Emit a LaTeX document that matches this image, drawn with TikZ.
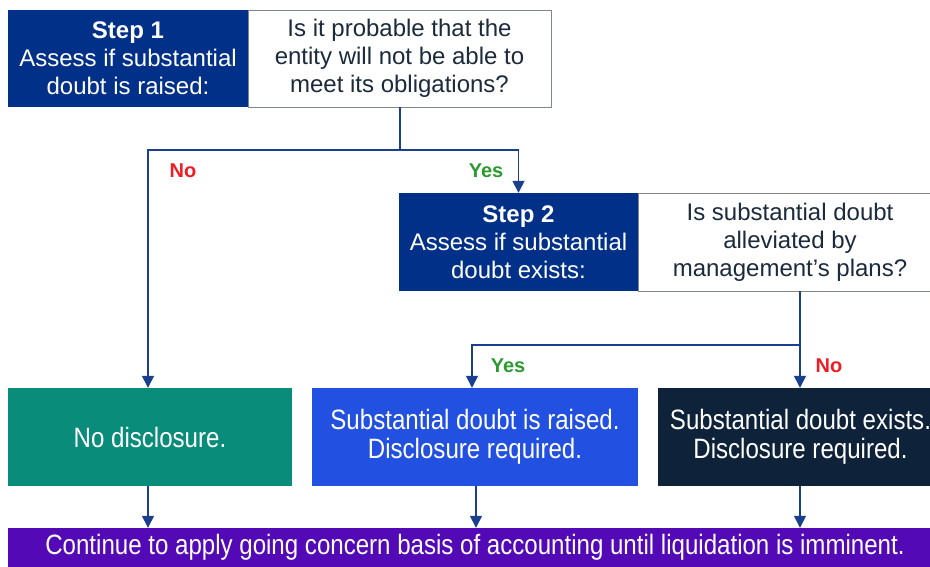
\documentclass[tikz,border=0pt]{standalone}
\usepackage{fontspec}
\setmainfont{Liberation Sans}
\newfontfamily\narrowfont[FakeStretch=0.86]{Liberation Sans}
\usetikzlibrary{arrows.meta}
\definecolor{stepblue}{HTML}{003087}
\definecolor{qtext}{HTML}{1B2A3C}
\definecolor{qborder}{HTML}{7F8690}
\definecolor{teal}{HTML}{0A8C7A}
\definecolor{brightblue}{HTML}{2250E0}
\definecolor{navy}{HTML}{0E2239}
\definecolor{purple}{HTML}{5309B5}
\definecolor{conn}{HTML}{1A3F8E}
\definecolor{noRed}{HTML}{EE1C25}
\definecolor{yesGreen}{HTML}{2B9A2F}
\newcommand{\rs}{\hspace*{12pt}}
\tikzset{
  stepbox/.style={fill=stepblue, text=white, minimum width=#1, minimum height=97pt, inner sep=0pt, align=center, font=\fontsize{24}{28}\selectfont},
  qbox/.style={draw=qborder, line width=0.8pt, fill=white, text=qtext, minimum width=#1, minimum height=97pt, inner sep=0pt, align=center, font=\fontsize{24}{28}\selectfont},
  outbox/.style={fill=#1, text=white, minimum height=98pt, inner sep=0pt, align=center, font=\narrowfont\fontsize{28}{29}\selectfont},
  conn/.style={draw=conn, line width=1.4pt},
  arr/.style={conn, -{Triangle[length=12pt,width=12pt]}},
  lbl/.style={font=\bfseries\fontsize{20}{22}\selectfont}
}
\begin{document}
\begin{tikzpicture}[x=1pt,y=-1pt]
\useasboundingbox (0,0) rectangle (930,567);
% Step 1
\node[stepbox=240pt] (s1) at (128,58.5) {{\bfseries Step 1}\\Assess if substantial\\doubt is raised:};
\node[qbox=303pt] (q1) at (399.5,58.5) {Is it probable that the\\entity will not be able to\\meet its obligations?};
% Step 2
\node[stepbox=239pt, minimum height=98pt] (s2) at (518.5,242) {{\bfseries Step 2}\\Assess if substantial\\doubt exists:};
\node[qbox=292pt, minimum height=98pt] (q2) at (784,242) {\rs Is substantial doubt\\\rs alleviated by\\\rs management’s plans?};
% outcomes
\node[outbox=teal, minimum width=284pt] (nodisc) at (150,437) {No disclosure.};
\node[outbox=brightblue, minimum width=326pt] (raised) at (475,437) {Substantial doubt is raised.\\Disclosure required.};
\node[outbox=navy, minimum width=271pt] (exists) at (794.5,437) {\rs Substantial doubt exists.\\\rs Disclosure required.};
\node[fill=purple, text=white, minimum width=922pt, minimum height=39pt, inner sep=0pt, font=\narrowfont\fontsize{28}{30}\selectfont] (concern) at (469,547.5) {\rs Continue to apply going concern basis of accounting until liquidation is imminent.};
% connectors step 1
\coordinate (j1) at (400,150);
\draw[conn] (j1 |- q1.south) -- (j1);
\draw[arr] (j1) -| (nodisc.north -| 148,0);
\draw[arr] (j1) -| (s2.north);
\node[lbl, text=noRed] (no1) at (183,171) {No};
\node[lbl, text=yesGreen] (yes1) at (486,171) {Yes};
% connectors step 2
\coordinate (j2) at (800,345);
\draw[conn] (j2 |- q2.south) -- (j2);
\draw[arr] (j2) -| (raised.north -| 472,0);
\draw[arr] (j2) -- (j2 |- exists.north);
\node[lbl, text=yesGreen] (yes2) at (508,366) {Yes};
\node[lbl, text=noRed] (no2) at (829,366) {No};
% to bottom
\draw[arr] (nodisc.south -| 148,0) -- (concern.north -| 148,0);
\draw[arr] (raised.south -| 476,0) -- (concern.north -| 476,0);
\draw[arr] (exists.south -| 800,0) -- (concern.north -| 800,0);
\end{tikzpicture}
\end{document}
